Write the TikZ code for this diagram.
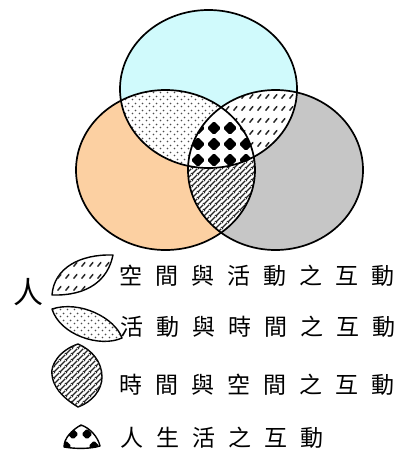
\documentclass[tikz,border=0pt]{standalone}
\usepackage{fontspec}
\newfontfamily\cjk{Noto Sans CJK TC}
\usetikzlibrary{patterns}
\pgfdeclarepatternformonly{vendots}{\pgfpointorigin}{\pgfpoint{6.5pt}{6.5pt}}{\pgfpoint{6.5pt}{6.5pt}}{%
  \pgfpathcircle{\pgfpoint{1.6pt}{1.6pt}}{1pt}%
  \pgfpathcircle{\pgfpoint{4.85pt}{4.85pt}}{1pt}%
  \pgfusepath{fill}}
\pgfdeclarepatternformonly{vendash}{\pgfpointorigin}{\pgfpoint{8pt}{12pt}}{\pgfpoint{8pt}{12pt}}{%
  \pgfsetlinewidth{1.6pt}\pgfsetroundcap
  \pgfpathmoveto{\pgfpoint{2pt}{4pt}}\pgfpathlineto{\pgfpoint{5.5pt}{8pt}}%
  \pgfusepath{stroke}}
\pgfdeclarepatternformonly{venlines}{\pgfpointorigin}{\pgfpoint{6pt}{6pt}}{\pgfpoint{6pt}{6pt}}{%
  \pgfsetlinewidth{1.5pt}%
  \pgfpathmoveto{\pgfpoint{0pt}{0pt}}\pgfpathlineto{\pgfpoint{6pt}{6pt}}%
  \pgfpathmoveto{\pgfpoint{-1pt}{5pt}}\pgfpathlineto{\pgfpoint{1pt}{7pt}}%
  \pgfpathmoveto{\pgfpoint{5pt}{-1pt}}\pgfpathlineto{\pgfpoint{7pt}{1pt}}%
  \pgfusepath{stroke}}
\definecolor{cyanf}{RGB}{208,250,252}
\definecolor{orangef}{RGB}{252,208,162}
\definecolor{grayf}{RGB}{198,198,198}
\newcommand\gp{\hspace{13pt}}
\newcommand\Ptop{(208.5,89) ellipse [x radius=88.5, y radius=79]}
\newcommand\Pleft{(165.5,170) ellipse [x radius=89.5, y radius=80]}
\newcommand\Pright{(275.5,170) ellipse [x radius=87.5, y radius=80]}
\begin{document}
\begin{tikzpicture}[x=1pt,y=-1pt,
  outline/.style={draw=black, line width=1.7pt},
  shapeline/.style={draw=black, line width=1.4pt, line join=round},
  dotsfill/.style={fill=white, postaction={pattern=vendots, pattern color=black!70}},
  dashfill/.style={fill=white, postaction={pattern=vendash, pattern color=black!85}},
  linesfill/.style={fill=white, postaction={pattern=venlines, pattern color=black!85}},
  diam/.style={fill=black, rounded corners=1.5pt},
  lbl/.style={font=\cjk\fontsize{23pt}{23pt}\selectfont, inner sep=0pt, anchor=west}]
\useasboundingbox (0,0) rectangle (402,450);
\fill[white] (0,0) rectangle (402,450);
% base circles
\fill[cyanf] \Ptop;
\fill[orangef] \Pleft;
\fill[grayf] \Pright;
% top & left
\begin{scope}
  \clip \Ptop; \clip \Pleft;
  \path[dotsfill] (0,0) rectangle (402,260);
\end{scope}
% top & right
\begin{scope}
  \clip \Ptop; \clip \Pright;
  \path[dashfill] (0,0) rectangle (402,260);
\end{scope}
% left & right
\begin{scope}
  \clip \Pleft; \clip \Pright;
  \path[linesfill] (0,0) rectangle (402,260);
\end{scope}
% all three
\begin{scope}
  \clip \Ptop; \clip \Pleft; \clip \Pright;
  \fill[white] (0,0) rectangle (402,260);
  \foreach \x in {198,214,230,246}
    \foreach \y in {128,144,160}
      \fill[diam] (\x,\y) +(0,-7) -- +(7,0) -- +(0,7) -- +(-7,0) -- cycle;
\end{scope}
\draw[outline] \Ptop;
\draw[outline] \Pleft;
\draw[outline] \Pright;
% legend
\node[font=\cjk\fontsize{30pt}{30pt}\selectfont, inner sep=0pt] (ren) at (28,292) {人};
\path[shapeline, dashfill] (52,295) .. controls (54,268) and (80,254) .. (113,255)
   .. controls (108,280) and (88,296) .. (52,295) -- cycle;
\path[shapeline, dotsfill] (52,309) .. controls (80,300) and (115,318) .. (122,338)
   .. controls (100,348) and (60,335) .. (52,309) -- cycle;
\path[shapeline, linesfill] (78,344) .. controls (60,350) and (50,365) .. (52,375)
   .. controls (54,392) and (70,402) .. (78,407)
   .. controls (92,402) and (102,390) .. (102,377)
   .. controls (102,362) and (92,350) .. (78,344) -- cycle;
\begin{scope}
  \clip (81,425) .. controls (72,430) and (64,438) .. (64,447)
     .. controls (76,449) and (90,449) .. (100,446)
     .. controls (98,437) and (90,428) .. (81,425) -- cycle;
  \fill[white] (60,420) rectangle (105,450);
  \foreach \p in {(73,434),(87,434),(80,422),(66,446),(94,446)}
    \fill[diam] \p +(0,-5.5) -- +(5.5,0) -- +(0,5.5) -- +(-5.5,0) -- cycle;
\end{scope}
\draw[shapeline] (81,425) .. controls (72,430) and (64,438) .. (64,447)
     .. controls (76,449) and (90,449) .. (100,446)
     .. controls (98,437) and (90,428) .. (81,425) -- cycle;
\node[lbl] (t1) at (119,276) {空\gp 間\gp 與\gp 活\gp 動\gp 之\gp 互\gp 動};
\node[lbl] (t2) at (120,327) {活\gp 動\gp 與\gp 時\gp 間\gp 之\gp 互\gp 動};
\node[lbl] (t3) at (119,385) {時\gp 間\gp 與\gp 空\gp 間\gp 之\gp 互\gp 動};
\node[lbl] (t4) at (120,438) {人\gp 生\gp 活\gp 之\gp 互\gp 動};
\end{tikzpicture}
\end{document}
